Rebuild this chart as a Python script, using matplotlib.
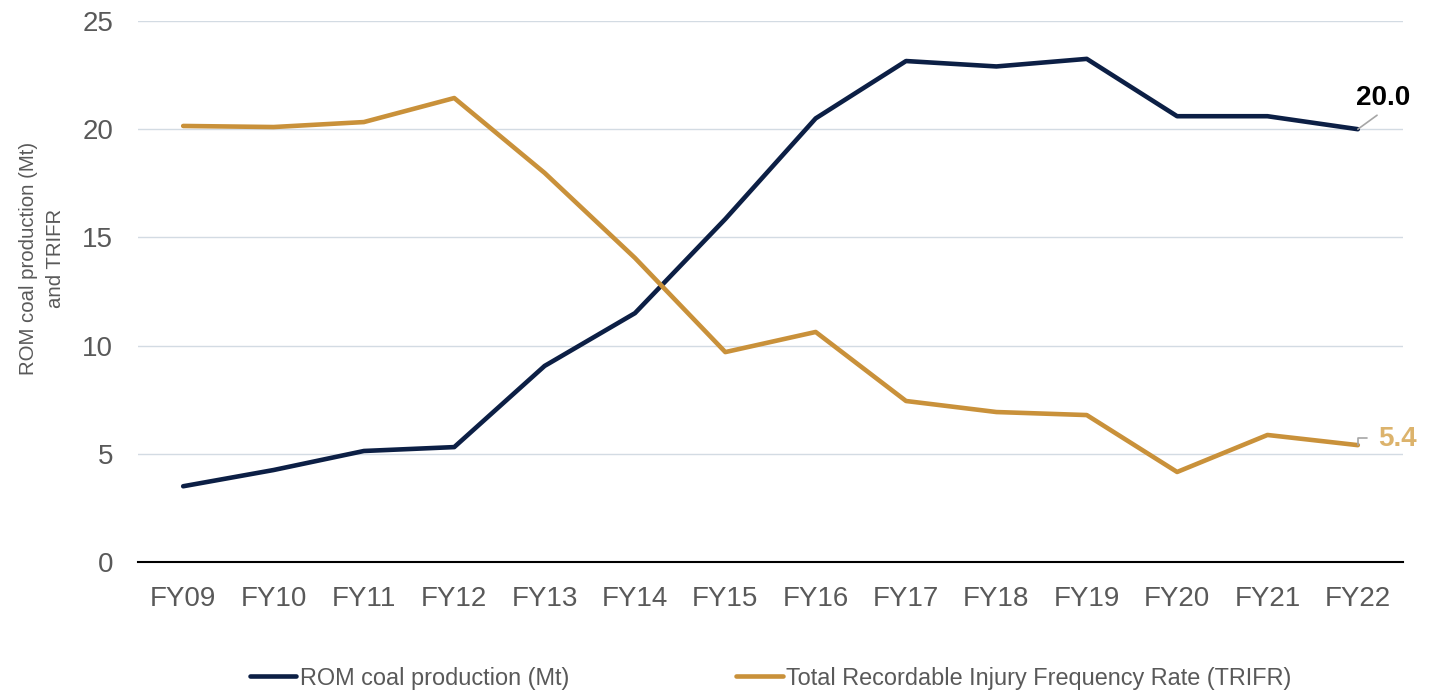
import matplotlib
matplotlib.use("Agg")
import matplotlib.pyplot as plt
import numpy as np

plt.rcParams["font.family"] = ["Liberation Sans", "DejaVu Sans"]

years = ["FY09", "FY10", "FY11", "FY12", "FY13", "FY14", "FY15",
         "FY16", "FY17", "FY18", "FY19", "FY20", "FY21", "FY22"]
rom_production = [3.5, 4.25, 5.13, 5.31, 9.06, 11.5, 15.85,
                  20.5, 23.15, 22.9, 23.25, 20.6, 20.6, 20.0]
trifr = [20.15, 20.1, 20.33, 21.44, 17.98, 14.05, 9.7,
         10.63, 7.44, 6.93, 6.79, 4.16, 5.87, 5.4]

NAVY = "#0c1f45"
GOLD = "#c9913a"
GOLD_LABEL = "#dcb36c"
GRID = "#d3dbe3"
TEXT = "#595959"

W, H = 1437, 692
fig = plt.figure(figsize=(W / 100, H / 100), dpi=100)
ax = fig.add_axes([138 / W, 1 - 562 / H, (1403 - 138) / W, (562 - 21) / H])

x = np.arange(len(years))
ax.plot(x, rom_production, color=NAVY, lw=3.3, solid_capstyle="round",
        solid_joinstyle="round", label="ROM coal production (Mt)", zorder=3)
ax.plot(x, trifr, color=GOLD, lw=3.3, solid_capstyle="round",
        solid_joinstyle="round", label="Total Recordable Injury Frequency Rate (TRIFR)", zorder=3)

ax.set_xlim(-0.5, len(years) - 0.5)
ax.set_ylim(0, 25)
ax.set_yticks([0, 5, 10, 15, 20, 25])
ax.set_xticks(x)
ax.set_xticklabels(years)
ax.tick_params(axis="both", length=0, labelsize=20, colors=TEXT)
ax.tick_params(axis="x", pad=17)
ax.tick_params(axis="y", pad=18)
ax.grid(axis="y", color=GRID, lw=1)
ax.set_axisbelow(True)
for side in ["top", "right", "left"]:
    ax.spines[side].set_visible(False)
ax.spines["bottom"].set_color("black")
ax.spines["bottom"].set_linewidth(1.5)

fig.text(42 / W, 1 - 258 / H, "ROM coal production (Mt)\nand TRIFR", fontsize=14.7,
         color=TEXT, rotation=90, ha="center", va="center", multialignment="center",
         linespacing=1.55)

# end-of-line data labels
last = len(years) - 1
ax.annotate(f"{rom_production[-1]:.1f}", xy=(last, rom_production[-1]),
            xytext=(last + 0.28, rom_production[-1] + 1.45), fontsize=20,
            fontweight="bold", color="black", ha="center", va="center",
            arrowprops=dict(arrowstyle="-", color="#a6a6a6", lw=1.2,
                            shrinkA=2, shrinkB=0, relpos=(0.5, 0)))
ax.annotate(f"{trifr[-1]:.1f}", xy=(last, trifr[-1]),
            xytext=(last + 0.22, trifr[-1] + 0.28), fontsize=20,
            fontweight="bold", color=GOLD_LABEL, ha="left", va="center",
            arrowprops=dict(arrowstyle="-", color="#a6a6a6", lw=1.2,
                            shrinkA=6, shrinkB=0, relpos=(0, 0.55),
                            connectionstyle="angle,angleA=0,angleB=90,rad=0"))

fig.legend(loc="center", bbox_to_anchor=(0.536, 1 - 678 / H), ncol=2, frameon=False,
           fontsize=16.9, labelcolor=TEXT, handlelength=2.0, handletextpad=0.13,
           columnspacing=7.1)

fig.savefig("out.png", dpi=100)
